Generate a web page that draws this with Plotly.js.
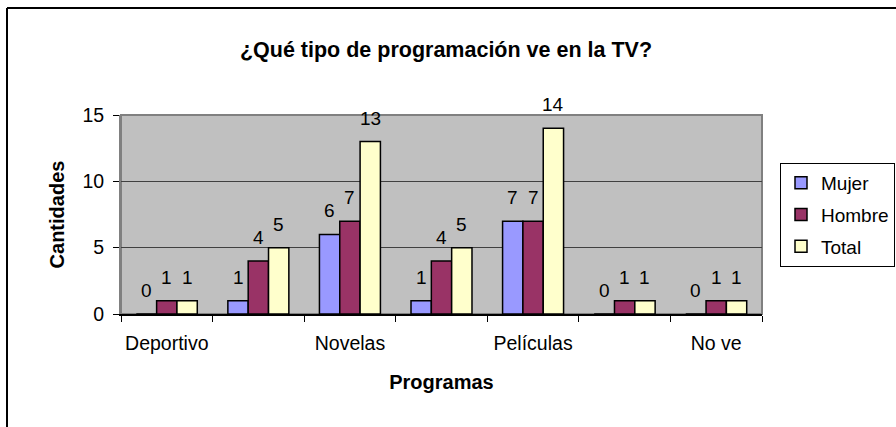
<!DOCTYPE html>
<html><head><meta charset="utf-8">
<script src="https://cdn.plot.ly/plotly-3.0.1.min.js"></script>
<style>html,body{margin:0;padding:0;background:#fff}</style>
</head><body><div id="chart" style="width:896px;height:427px"></div>
<script>
// ---- data ----
const categories = ['Deportivo', '', 'Novelas', '', 'Películas', '', 'No ve'];
const mujer  = [0, 1, 6, 1, 7, 0, 0];
const hombre = [1, 4, 7, 4, 7, 1, 1];
const total  = [1, 5, 13, 5, 14, 1, 1];
const seriesNames = ['Mujer', 'Hombre', 'Total'];
const yTickValues = [0, 5, 10, 15];
const chartTitle = '¿Qué tipo de programación ve en la TV?';
const xTitle = 'Programas';
const yTitle = 'Cantidades';

// ---- styles ----
const FONT = 'Liberation Sans, Arial, sans-serif';
const colors = ['#9999FF', '#993366', '#FFFFCC'];
const W = 896, H = 427;
const M = {l: 121, r: 134, t: 115, b: 113, autoexpand: false};
const pw = W - M.l - M.r, ph = H - M.t - M.b;
const px2x = p => (p - M.l) / pw;
const py2y = p => (H - M.b - p) / ph;
const bargap = 0.334;

const idx = categories.map((c, i) => i);
const series = [mujer, hombre, total];

const traces = series.map((vals, j) => ({
  type: 'bar',
  x: idx,
  y: vals,
  name: seriesNames[j],
  legendgroup: seriesNames[j],
  marker: {color: colors[j], line: {color: '#000', width: 1.5}},
  hoverinfo: 'x+y+name'
}));

const bw = (1 - bargap) / series.length;
const annotations = [];
series.forEach((vals, j) => {
  vals.forEach((v, i) => {
    annotations.push({
      x: i + (j - (series.length - 1) / 2) * bw, y: v, xref: 'x', yref: 'y',
      text: String(v), showarrow: false, yanchor: 'bottom', yshift: 11,
      font: {family: FONT, size: 19, color: '#000'}
    });
  });
});

const layout = {
  width: W, height: H,
  margin: M,
  paper_bgcolor: '#fff',
  plot_bgcolor: '#C0C0C0',
  font: {family: FONT, color: '#000'},
  barmode: 'group',
  bargap: bargap,
  bargroupgap: 0,
  title: {
    text: chartTitle, font: {family: FONT, size: 21.5, weight: 'bold', color: '#000'},
    xref: 'container', yref: 'container', x: 446 / W, y: 1 - 49 / H,
    xanchor: 'center', yanchor: 'middle'
  },
  xaxis: {
    range: [-0.5, categories.length - 0.5],
    tickmode: 'array', tickvals: idx, ticktext: categories,
    ticks: 'outside', ticklen: 11, tickcolor: 'rgba(0,0,0,0)',
    minor: {tickmode: 'linear', tick0: 0.5, dtick: 1, ticks: 'outside', ticklen: 6, tickcolor: '#000', tickwidth: 1, showgrid: false},
    tickfont: {family: FONT, size: 19.5, color: '#000'},
    showline: true, linecolor: '#000', linewidth: 1.5,
    showgrid: false, zeroline: false, fixedrange: true, automargin: false,
    title: {text: xTitle, font: {family: FONT, size: 20, weight: 'bold', color: '#000'}, standoff: 22}
  },
  yaxis: {
    range: [0, 15], tickmode: 'array', tickvals: yTickValues,
    ticks: 'outside', ticklen: 6, tickcolor: '#000', tickwidth: 1,
    ticklabelstandoff: 5,
    tickfont: {family: FONT, size: 19.5, color: '#000'},
    showline: true, linecolor: '#808080', linewidth: 2,
    showgrid: true, gridcolor: '#404040', gridwidth: 1,
    zeroline: false, fixedrange: true, automargin: false,
    title: {text: yTitle, font: {family: FONT, size: 20, weight: 'bold', color: '#000'}, standoff: 12}
  },
  legend: {
    x: px2x(780), y: py2y(163), xanchor: 'left', yanchor: 'top',
    bgcolor: '#fff', bordercolor: '#000', borderwidth: 1,
    font: {family: FONT, size: 19, color: '#000'},
    traceorder: 'grouped', tracegroupgap: 4
  },
  shapes: [
    {type: 'rect', xref: 'paper', yref: 'paper', x0: 0, x1: 1, y0: 0, y1: 1,
     line: {color: '#808080', width: 2}, layer: 'below'},
    {type: 'line', xref: 'paper', yref: 'paper', x0: px2x(7), x1: px2x(7), y0: py2y(8), y1: py2y(H + 5),
     line: {color: '#000', width: 2}},
    {type: 'line', xref: 'paper', yref: 'paper', x0: px2x(7), x1: px2x(W + 5), y0: py2y(8), y1: py2y(8),
     line: {color: '#000', width: 2}}
  ],
  annotations: annotations,
  showlegend: true
};

Plotly.newPlot('chart', traces, layout, {displayModeBar: false, staticPlot: true});
</script>
</body></html>
